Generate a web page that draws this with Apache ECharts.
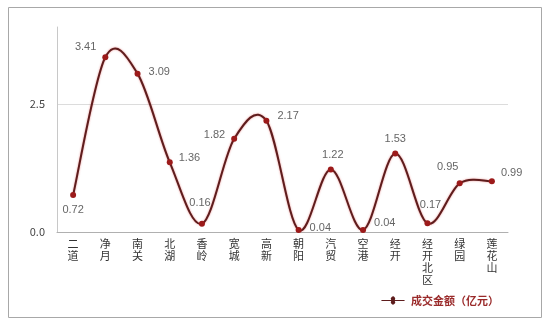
<!DOCTYPE html>
<html>
<head>
<meta charset="utf-8">
<script src="https://cdn.jsdelivr.net/npm/echarts@6/dist/echarts.min.js"></script>
<style>
  html, body { margin: 0; padding: 0; background: #fff; }
  #chart { width: 554px; height: 324px; }
</style>
</head>
<body>
<div id="chart"></div>
<script>
// District names along the x axis
var districts = ['二道', '净月', '南关', '北湖', '香岭', '宽城', '高新', '朝阳', '汽贸', '空港', '经开', '经开北区', '绿园', '莲花山'];
// Transaction amount per district (100 million yuan)
var amounts = [0.72, 3.41, 3.09, 1.36, 0.16, 1.82, 2.17, 0.04, 1.22, 0.04, 1.53, 0.17, 0.95, 0.99];
// Value-axis tick labels
var yTicks = [0, 2.5];
var seriesName = '成交金额（亿元）';

// Where each value label sits relative to its point
var labelPlacement = [
  { position: 'bottom', offset: [0, 0] },
  { position: 'left', offset: [0, -10] },
  { position: 'right', offset: [2, -2] },
  { position: 'right', offset: [0, -4] },
  { position: 'top', offset: [-2, -6] },
  { position: 'left', offset: [0, -4] },
  { position: 'right', offset: [2, -5] },
  { position: 'right', offset: [2, -2] },
  { position: 'top', offset: [2, 0] },
  { position: 'right', offset: [2, -7] },
  { position: 'top', offset: [0, 0] },
  { position: 'top', offset: [3, -4] },
  { position: 'top', offset: [-12, -2] },
  { position: 'right', offset: [0, -8] }
];

var seriesData = amounts.map(function (v, i) {
  return {
    value: v,
    label: {
      position: labelPlacement[i].position,
      offset: labelPlacement[i].offset
    }
  };
});

// Catmull-Rom segment between point i and i+1, built from axis coordinates
function renderSegment(params, api) {
  var i = params.dataIndex;
  var n = amounts.length;
  if (i >= n - 1) return null;
  function pt(k) {
    k = Math.max(0, Math.min(n - 1, k));
    return api.coord([k, amounts[k]]);
  }
  var p0 = pt(i - 1), p1 = pt(i), p2 = pt(i + 1), p3 = pt(i + 2);
  var t = 1 / 6;
  return {
    type: 'bezierCurve',
    shape: {
      x1: p1[0], y1: p1[1],
      cpx1: p1[0] + (p2[0] - p0[0]) * t,
      cpy1: p1[1] + (p2[1] - p0[1]) * t,
      cpx2: p2[0] - (p3[0] - p1[0]) * t,
      cpy2: p2[1] - (p3[1] - p1[1]) * t,
      x2: p2[0], y2: p2[1]
    },
    style: {
      fill: null,
      stroke: '#5e1d1d',
      lineWidth: 2,
      shadowColor: 'rgba(210,40,40,0.55)',
      shadowBlur: 2
    },
    silent: true
  };
}

var chart = echarts.init(document.getElementById('chart'), null, { renderer: 'canvas' });

chart.setOption({
  backgroundColor: '#ffffff',
  animation: false,
  textStyle: { fontFamily: '"Noto Sans CJK SC", "Liberation Sans", sans-serif' },
  graphic: [
    {
      type: 'rect',
      shape: { x: 8.5, y: 7.5, width: 533, height: 310 },
      style: { fill: 'none', stroke: '#a8a8a8', lineWidth: 1 },
      silent: true,
      z: -1
    }
  ],
  grid: { left: 57, right: 46, top: 27, bottom: 92 },
  legend: {
    right: 50,
    top: 290,
    itemWidth: 26,
    itemHeight: 8,
    itemGap: 4,
    data: [seriesName],
    textStyle: { color: '#9a2a2a', fontSize: 11, fontWeight: 'bold', fontFamily: '"Noto Sans CJK SC", sans-serif' }
  },
  xAxis: {
    type: 'category',
    data: districts,
    boundaryGap: true,
    axisLine: { show: true, lineStyle: { color: '#b0b0b0', width: 1 } },
    axisTick: { show: false },
    axisLabel: {
      interval: 0,
      color: '#333',
      fontSize: 11,
      lineHeight: 12,
      margin: 6,
      formatter: function (s) { return s.split('').join('\n'); }
    }
  },
  yAxis: {
    type: 'value',
    min: 0,
    max: 4,
    interval: 2.5,
    axisLine: { show: true, lineStyle: { color: '#c8c8c8', width: 1 } },
    axisTick: { show: false },
    axisLabel: {
      color: '#444',
      fontSize: 11,
      margin: 12,
      showMaxLabel: false,
      formatter: function (v) {
        return yTicks.indexOf(v) >= 0 ? v.toFixed(1) : '';
      }
    },
    splitLine: {
      show: true,
      showMinLine: false,
      showMaxLine: false,
      lineStyle: { color: '#dcdcdc', width: 1 }
    }
  },
  series: [
    {
      name: 'curve',
      type: 'custom',
      renderItem: renderSegment,
      data: amounts.map(function (v, i) { return [i, v]; }),
      encode: { x: 0, y: 1 },
      z: 2
    },
    {
      name: seriesName,
      type: 'line',
      data: seriesData,
      symbol: 'circle',
      symbolSize: 6,
      z: 3,
      lineStyle: { color: '#3a1414', width: 0, opacity: 0 },
      itemStyle: { color: '#9c1a1a', borderWidth: 0 },
      label: {
        show: true,
        color: '#666',
        fontSize: 11,
        distance: 6,
        fontFamily: '"Liberation Sans", Arial, sans-serif'
      }
    }
  ]
});

// Legend icon: dark line with a red dot, matching the curve and markers
chart.setOption({
  legend: {
    data: [{
      name: seriesName,
      icon: 'path://M0,4 L11,4 A2.5,2.5 0 1 1 15,4 L26,4 L26,5 L15,5 A2.5,2.5 0 1 1 11,5 L0,5 Z',
      itemStyle: { color: '#5e1d1d' }
    }]
  }
});
</script>
</body>
</html>
